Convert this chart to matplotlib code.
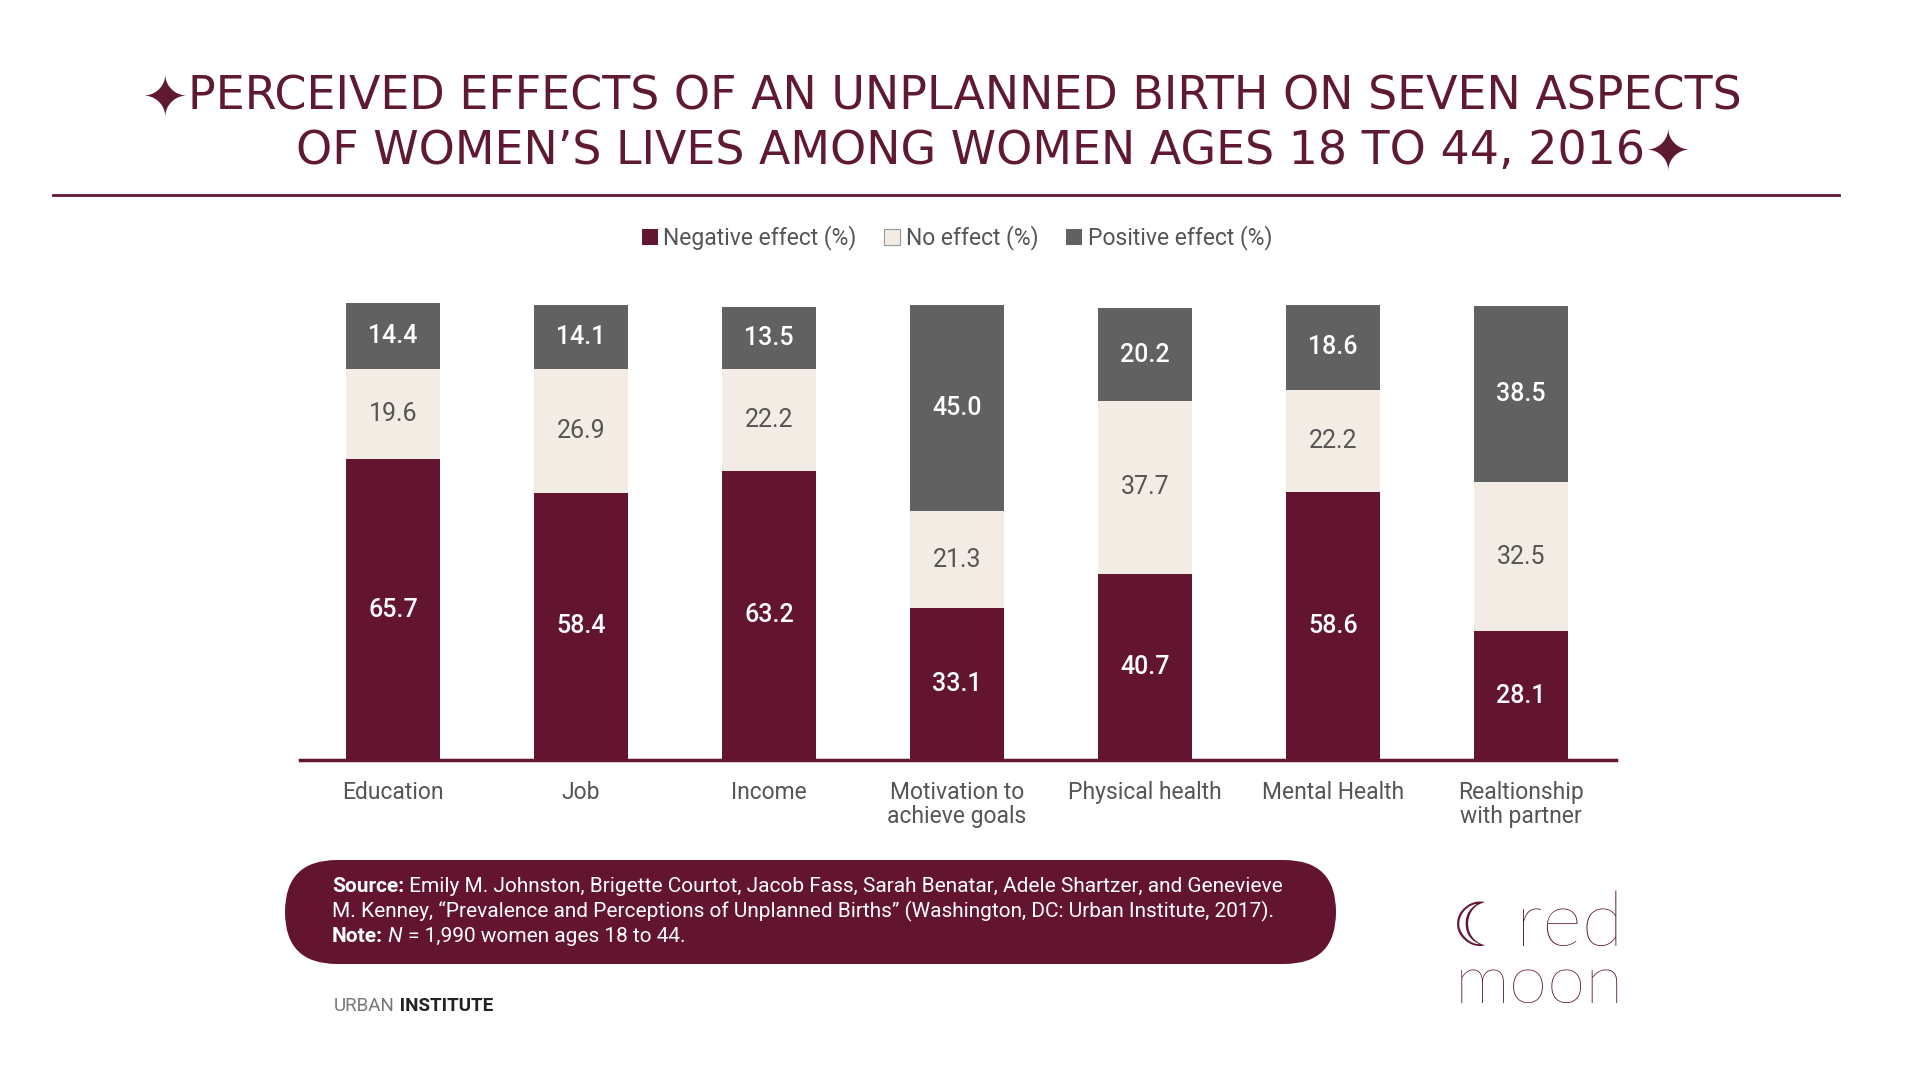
import numpy as np
import matplotlib.pyplot as plt
from matplotlib.patches import FancyBboxPatch, Patch

# data
categories = ["Education", "Job", "Income", "Motivation to\nachieve goals",
              "Physical health", "Mental Health", "Realtionship\nwith partner"]
negative = [65.7, 58.4, 63.2, 33.1, 40.7, 58.6, 28.1]
no_effect = [19.6, 26.9, 22.2, 21.3, 37.7, 22.2, 32.5]
positive = [14.4, 14.1, 13.5, 45.0, 20.2, 18.6, 38.5]
series_names = ["Negative effect (%)", "No effect (%)", "Positive effect (%)"]

title_1 = "PERCEIVED EFFECTS OF AN UNPLANNED BIRTH ON SEVEN ASPECTS"
title_2 = "OF WOMEN\u2019S LIVES AMONG WOMEN AGES 18 TO 44, 2016"
star = "\u2726"
source_1 = ("Source:", " Emily M. Johnston, Brigette Courtot, Jacob Fass, Sarah Benatar, "
            "Adele Shartzer, and Genevieve")
source_2 = "M. Kenney, \u201cPrevalence and Perceptions of Unplanned Births\u201d (Washington, DC: Urban Institute, 2017)."
note = ("Note:", " N", " = 1,990 women ages 18 to 44.")

maroon = "#63152f"
cream = "#f3ece4"
grey = "#616161"
text_grey = "#555555"
title_col = "#5f1a31"

plt.rcParams["font.family"] = ["Roboto", "DejaVu Sans"]

fig = plt.figure(figsize=(19.2, 10.8), dpi=100)
fig.patch.set_facecolor("white")

# full-figure axes in pixel coordinates for the decorations
bg = fig.add_axes([0, 0, 1, 1])
bg.set_xlim(0, 1920)
bg.set_ylim(1080, 0)
bg.axis("off")

title_font = ["DejaVu Sans", "Noto Sans CJK JP", "Noto Sans"]
t = bg.text(965, 110, title_1, ha="center", va="baseline", fontsize=33,
            family=title_font, color=title_col)
bg.annotate(star, xy=(0, 0.42), xycoords=t, ha="right", va="center", fontsize=40,
            family=title_font, color=title_col)
t = bg.text(970, 164, title_2, ha="center", va="baseline", fontsize=33,
            family=title_font, color=title_col)
bg.annotate(star, xy=(1, 0.42), xycoords=t, ha="left", va="center", fontsize=40,
            family=title_font, color=title_col)
bg.plot([53, 1839], [195, 195], color=maroon, lw=2)

# chart
ax = fig.add_axes([300 / 1920, 1 - 760 / 1080, 1316 / 1920, 458 / 1080])
ax.patch.set_alpha(0)
x = np.arange(len(categories))
neg = np.array(negative)
no = np.array(no_effect)
pos = np.array(positive)
w = 0.5
ax.bar(x, neg, width=w, color=maroon)
ax.bar(x, no, width=w, bottom=neg, color=cream)
ax.bar(x, pos, width=w, bottom=neg + no, color=grey)

for i in range(len(x)):
    ax.text(x[i], neg[i] / 2, f"{neg[i]:.1f}", ha="center", va="center",
            fontsize=18, color="white", weight="medium")
    ax.text(x[i], neg[i] + no[i] / 2, f"{no[i]:.1f}", ha="center", va="center",
            fontsize=18, color=text_grey)
    ax.text(x[i], neg[i] + no[i] + pos[i] / 2, f"{pos[i]:.1f}", ha="center",
            va="center", fontsize=18, color="white", weight="medium")

ax.set_xlim(-0.495, 6.505)
ax.set_ylim(0, 100)
for s in ["top", "right", "left"]:
    ax.spines[s].set_visible(False)
ax.spines["bottom"].set_color(maroon)
ax.spines["bottom"].set_linewidth(2.5)
ax.set_yticks([])
ax.set_xticks(x, categories, fontsize=16.5, color=text_grey, linespacing=1.05)
ax.tick_params(axis="x", length=0, pad=15)

handles = [Patch(facecolor=maroon), Patch(facecolor=cream, edgecolor="#999999", lw=0.8),
           Patch(facecolor=grey)]
fig.legend(handles, series_names, loc="center", bbox_to_anchor=(957 / 1920, 1 - 238 / 1080),
           ncol=3, frameon=False, fontsize=16.5, handlelength=0.7, handleheight=0.7,
           handletextpad=0.25, columnspacing=1.2, labelcolor=text_grey)

# source box
box = FancyBboxPatch((285, 860), 1051, 104, boxstyle="round,pad=0,rounding_size=52",
                     facecolor=maroon, edgecolor="none")
bg.add_patch(box)
fs = 15
t = bg.text(332, 892, source_1[0], ha="left", va="baseline", fontsize=fs,
            color="white", weight="bold")
bg.annotate(source_1[1], xy=(1, 0), xycoords=t, ha="left", va="bottom",
            fontsize=fs, color="white")
bg.text(332, 917, source_2, ha="left", va="baseline", fontsize=fs, color="white")
t = bg.text(332, 942, note[0], ha="left", va="baseline", fontsize=fs,
            color="white", weight="bold")
t = bg.annotate(note[1], xy=(1, 0), xycoords=t, ha="left", va="bottom",
                fontsize=fs, color="white", style="italic")
bg.annotate(note[2], xy=(1, 0), xycoords=t, ha="left", va="bottom",
            fontsize=fs, color="white")

# urban institute mark
t1 = bg.text(334, 1006, "URBAN", fontsize=13.5, color="#777777", va="center")
bg.annotate(" INSTITUTE", xy=(1, 0.5), xycoords=t1, va="center", ha="left",
            fontsize=13.5, color="#222222", weight="bold")

# red moon logo
logo_font = ["Lato", "DejaVu Sans"]
bg.text(1452, 946, "\u263e", fontsize=44, family="DejaVu Sans", color=maroon, va="baseline")
bg.text(1516, 946, "red", fontsize=55, family=logo_font, weight="light",
        color="#5a0f28", va="baseline")
bg.text(1455, 1003, "moon", fontsize=50, family=logo_font, weight="light",
        color="#5a0f28", va="baseline")

fig.savefig("out.png", dpi=100)
